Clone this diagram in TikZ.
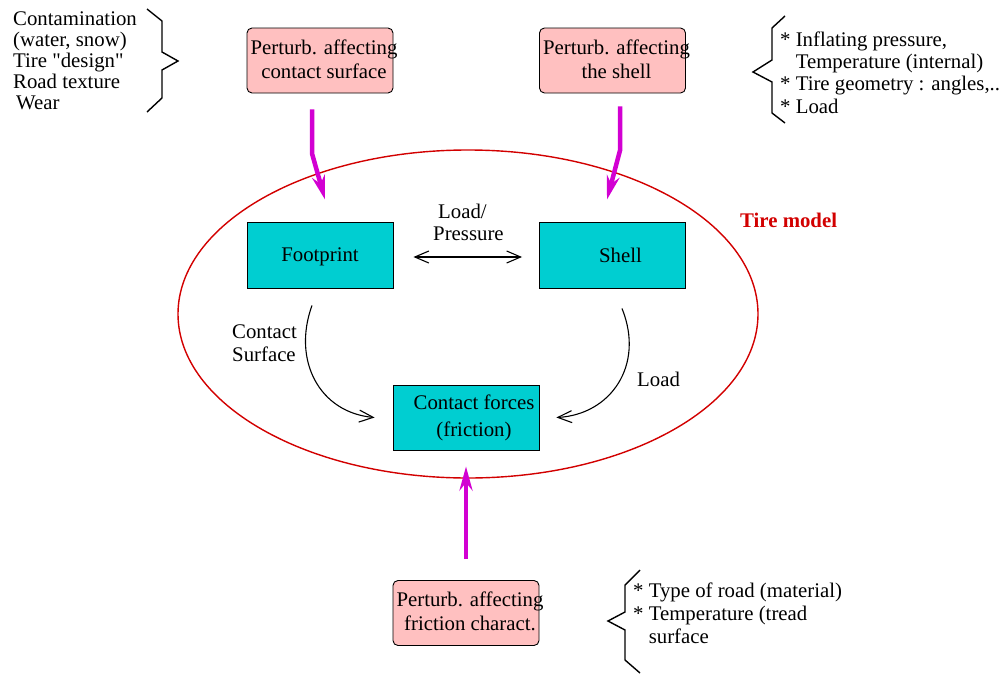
\documentclass[tikz,border=0pt]{standalone}
\usepackage{fontspec}
\setmainfont{Liberation Serif}
\usetikzlibrary{arrows.meta,shapes.geometric}
\definecolor{pinkfill}{RGB}{255,192,192}
\definecolor{tealfill}{RGB}{0,206,209}
\definecolor{perturbline}{RGB}{210,0,210}
\definecolor{tirered}{RGB}{210,0,0}

\begin{document}
\begin{tikzpicture}[x=1pt,y=-1pt,
  every node/.style={font=\fontsize{20.8}{22}\selectfont},
  pbox/.style={draw, fill=pinkfill, rounded corners=5pt, minimum width=146pt,
    minimum height=65pt, inner sep=0pt, line width=0.9pt},
  cbox/.style={draw, fill=tealfill, minimum width=146pt, minimum height=66pt,
    inner sep=0pt, line width=0.9pt},
  btext/.style={align=center, inner sep=0pt},
  note/.style={align=left, inner sep=0pt, anchor=base west},
  perturb/.style={draw=perturbline, line width=4.5pt,
    -{Stealth[length=24pt,width=13pt]}},
  flow/.style={line width=1.1pt, -{Straight Barb[length=14pt,width=12pt]}},
  brace/.style={line width=1.4pt, line join=miter}
]
\useasboundingbox (0,0) rectangle (1002,675);

% tire model boundary
\node[draw=tirered, line width=1.4pt, ellipse, minimum width=580pt,
  minimum height=328pt, inner sep=0pt] (tire) at (468,314) {};
\node[anchor=base west, inner sep=0pt, text=tirered,
  font=\fontsize{20.8}{22}\selectfont\bfseries] (tirelbl) at (740,227) {Tire model};

% perturbation boxes
\node[pbox] (p1) at (320,60.5) {};
\node[btext, font=\fontsize{20.8}{23.5}\selectfont] (p1t) at ([xshift=4pt,yshift=1pt]p1.center)
  {Perturb. affecting\\contact surface};
\node[pbox] (p2) at (612.5,60.5) {};
\node[btext, font=\fontsize{20.8}{23.5}\selectfont] (p2t) at ([xshift=4pt,yshift=1pt]p2.center)
  {Perturb. affecting\\the shell};
\node[pbox] (p3) at (466,613) {};
\node[btext, font=\fontsize{20.8}{24}\selectfont] (p3t) at ([xshift=4pt,yshift=2pt]p3.center)
  {Perturb. affecting\\friction charact.};

% model blocks
\node[cbox] (foot) at (320,255) {};
\node[btext] (foott) at ([yshift=-2pt]foot.center) {Footprint};
\node[cbox] (shell) at (612.5,255) {};
\node[btext] (shellt) at ([xshift=8pt]shell.center) {Shell};
\node[cbox, minimum height=65pt] (cf) at (466,417.5) {};
\node[btext, font=\fontsize{20.8}{27}\selectfont] (cft) at ([xshift=8pt]cf.center)
  {Contact forces\\(friction)};

% side notes (anchored at the baseline of their last line)
\node[note, font=\fontsize{20.8}{21}\selectfont] (leftnote) at (13,109.5)
  {Contamination\\(water, snow)\\Tire \textquotedbl design\textquotedbl\\Road texture\\\hspace*{3pt}Wear};
\draw[brace] (147,9) -- (162,21) -- (162,52) -- (178,61) -- (162,70) -- (162,98) -- (147,112);

\node[note, font=\fontsize{20.8}{22.3}\selectfont] (rightnote) at (780,113)
  {* Inflating pressure,\\\phantom{* }Temperature (internal)\\* Tire geometry : angles,..\\* Load};
\draw[brace] (785,16) -- (772,28) -- (772,60) -- (753,72) -- (772,82) -- (772,113) -- (785,123);

\node[note, font=\fontsize{20.8}{23}\selectfont] (bottomnote) at (633,643)
  {* Type of road (material)\\* Temperature (tread\\\phantom{* }surface};
\draw[brace] (640,570) -- (625,585) -- (625,612) -- (608,621) -- (625,630) -- (625,660) -- (640,673);

% connector labels
\node[note, font=\fontsize{20.8}{22}\selectfont] (lplbl) at (433,240) {\hspace*{5pt}Load/\\Pressure};
\node[note, font=\fontsize{20.8}{23}\selectfont] (cslbl) at (232,361) {Contact\\Surface};
\node[note] (loadlbl) at (637,386) {Load};

% perturbation arrows
\draw[perturb] ([xshift=-8pt,yshift=-16pt]p1.south) -- ([xshift=-8pt,yshift=-60pt]p1.south)
  -- ([xshift=5pt,yshift=22pt]foot.north);
\draw[perturb] ([xshift=7.5pt,yshift=-13pt]p2.south) -- ([xshift=7.5pt,yshift=-57pt]p2.south)
  -- ([xshift=-5.5pt,yshift=22pt]shell.north);
\draw[perturb] ([yshift=21pt]p3.north) -- ([yshift=-16pt]cf.south);

% interactions inside the model
\draw[line width=1.1pt, {Straight Barb[length=14pt,width=12pt]}-{Straight Barb[length=14pt,width=12pt]}]
  ([xshift=20pt,yshift=-2pt]foot.east) -- ([xshift=-17pt,yshift=-2pt]shell.west);
\draw[flow] ([xshift=-8pt,yshift=-17pt]foot.south) .. controls +(-20,55) and +(-55,-5) ..
  ([xshift=-18pt]cf.west);
\draw[flow] ([xshift=9.5pt,yshift=-20pt]shell.south) .. controls +(23,57) and +(54,-3) ..
  ([xshift=17pt]cf.east);
\end{tikzpicture}
\end{document}
